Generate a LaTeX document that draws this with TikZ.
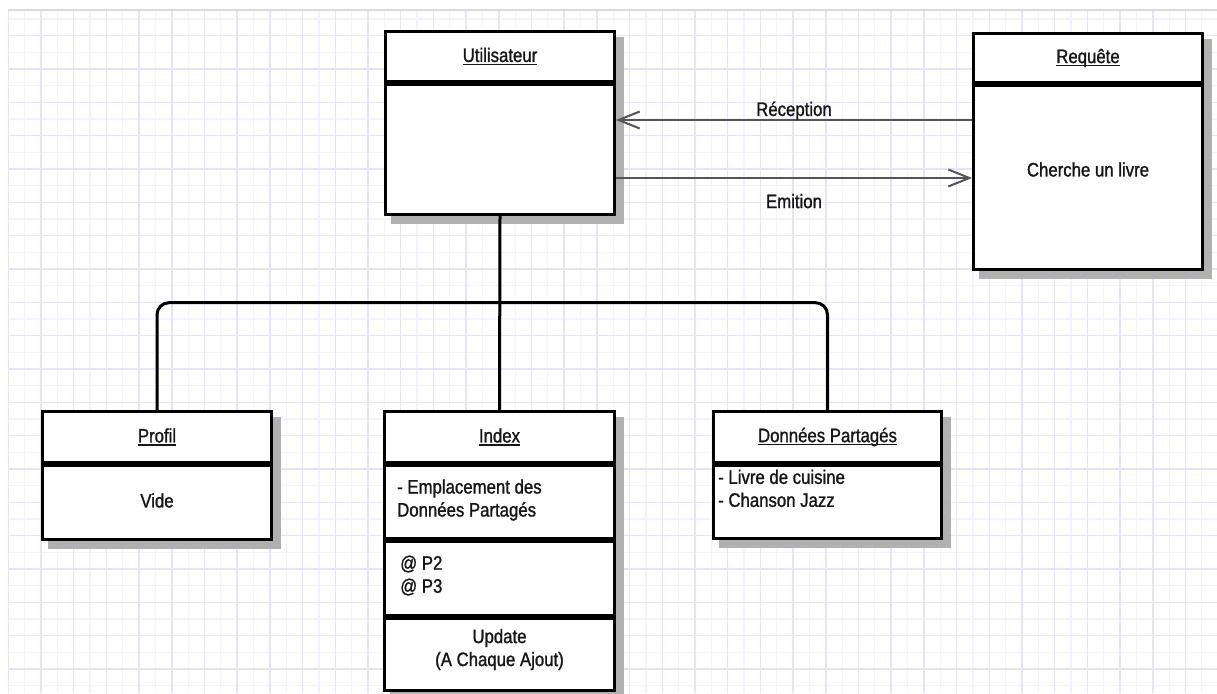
\documentclass[tikz,border=0pt]{standalone}
\usepackage{fontspec}
\setmainfont{Liberation Sans}[FakeStretch=0.86, FakeBold=1.2]
\usetikzlibrary{arrows.meta,calc}

\definecolor{gridminor}{RGB}{243,243,255}
\definecolor{gridmajor}{RGB}{228,228,250}
\definecolor{ink}{RGB}{22,22,22}
\definecolor{wire}{RGB}{85,85,85}
\definecolor{shade}{RGB}{176,176,176}
\definecolor{edgegray}{RGB}{218,218,218}

\pgfdeclarelayer{paper}
\pgfdeclarelayer{shadow}
\pgfsetlayers{paper,shadow,main}

% class title with a close underline
\newcommand\headtext[1]{\setbox0\hbox{#1}\rlap{\rule[-3.2pt]{\wd0}{1.6pt}}\box0}

\begin{document}
\begin{tikzpicture}[x=1pt,y=-1pt,
  part/.style={draw=black, line width=3pt, fill=white, inner sep=0pt,
    anchor=north west, minimum width=229pt},
  txt/.style={font=\fontsize{19.5}{23}\selectfont, text=ink, inner sep=0pt, align=center},
  msg/.style={draw=wire, line width=2pt, -{Straight Barb[length=21pt, width=17pt]}},
  link/.style={draw=black, line width=3pt},
  castshadow/.style={fill=shade}]

% page and squared paper
\useasboundingbox (0,0) rectangle (1217,693);
\begin{pgfonlayer}{paper}
\fill[white] (0,0) rectangle (1217,693);
\begin{scope}
  \clip (8,10) rectangle (1217,693);
  \foreach \i in {1,3,...,73}
    \draw[gridminor, line width=1.2pt] ({8.3+16.35*\i},10) -- ({8.3+16.35*\i},693);
  \foreach \j in {1,3,...,41}
    \draw[gridminor, line width=1.2pt] (8,{2.33+16.667*\j}) -- (1217,{2.33+16.667*\j});
  \foreach \i in {0,2,...,74}
    \draw[gridmajor, line width=1.5pt] ({8.3+16.35*\i},10) -- ({8.3+16.35*\i},693);
  \foreach \j in {2,4,...,40}
    \draw[gridmajor, line width=1.5pt] (8,{2.33+16.667*\j}) -- (1217,{2.33+16.667*\j});
\end{scope}
\draw[edgegray, line width=1.5pt] (8,10) -- (1217,10);
\end{pgfonlayer}

% Utilisateur
\node[part, minimum height=50pt] (util) at (384,30) {};
\node[part, minimum height=130pt] (utilbody) at (util.south west) {};
\node[txt] (t-util) at (util) {\headtext{Utilisateur}};

% Requête
\node[part, minimum height=49pt] (req) at (972,32) {};
\node[part, minimum height=184pt] (reqbody) at (req.south west) {};
\node[txt] (t-req) at (req) {\headtext{Requête}};
\node[txt] (t-reqbody) at ($(reqbody)+(0,-8)$) {Cherche un livre};

% Profil
\node[part, minimum height=51pt] (prof) at (41,410) {};
\node[part, minimum height=74pt] (profbody) at (prof.south west) {};
\node[txt] (t-prof) at (prof) {\headtext{Profil}};
\node[txt] (t-profbody) at ($(profbody)+(0,-2)$) {Vide};

% Index
\node[part, minimum width=230pt, minimum height=51pt] (idx) at (383,410) {};
\node[part, minimum width=230pt, minimum height=73pt] (idx1) at (idx.south west) {};
\node[part, minimum width=230pt, minimum height=74pt] (idx2) at (idx1.south west) {};
\node[part, minimum width=230pt, minimum height=72pt] (idx3) at (idx2.south west) {};
\node[txt] (t-idx) at (idx) {\headtext{Index}};
\node[txt, align=left, anchor=west] (t-idx1) at ($(idx1.west)+(14,-2)$) {- Emplacement des\\Données Partagés};
\node[txt, align=left, anchor=west] (t-idx2) at ($(idx2.west)+(17,-3)$) {@ P2\\@ P3};
\node[txt] (t-idx3) at ($(idx3)+(0,-5)$) {Update\\(A Chaque Ajout)};

% Données Partagés
\node[part, minimum width=228pt, minimum height=51pt] (don) at (712,410) {};
\node[part, minimum width=228pt, minimum height=73pt] (donbody) at (don.south west) {};
\node[txt] (t-don) at (don) {\headtext{Données Partagés}};
\node[txt, align=left, anchor=north west] (t-donbody) at ($(donbody.north west)+(6,5.5)$) {- Livre de cuisine\\- Chanson Jazz};

% cast shadows behind each class
\begin{pgfonlayer}{shadow}
  \fill[castshadow] ($(util.north west)+(7,7)$) rectangle ($(utilbody.south east)+(7.5,7.5)$);
  \fill[castshadow] ($(req.north west)+(7,7)$) rectangle ($(reqbody.south east)+(7.5,7.5)$);
  \fill[castshadow] ($(prof.north west)+(7,7)$) rectangle ($(profbody.south east)+(7.5,7.5)$);
  \fill[castshadow] ($(idx.north west)+(7,7)$) rectangle ($(idx3.south east)+(7.5,7.5)$);
  \fill[castshadow] ($(don.north west)+(7,7)$) rectangle ($(donbody.south east)+(7.5,7.5)$);
\end{pgfonlayer}

% messages between Utilisateur and Requête
\coordinate (recY) at (0,120);
\coordinate (emiY) at (0,178);
\draw[msg] (reqbody.west |- recY) -- node[txt, above=-1pt] (t-rec) {Réception} (utilbody.east |- recY);
\draw[msg] (utilbody.east |- emiY) -- node[txt, below=15pt] (t-emi) {Emition} (reqbody.west |- emiY);

% tree from Utilisateur to the three lower classes
\coordinate (fork) at (0,302.7);
\draw[link] (utilbody.south) -- (idx.north);
\draw[link, rounded corners=12pt] (prof.north) -- (prof.north |- fork) -- (don.north |- fork) -- (don.north);
\end{tikzpicture}
\end{document}
